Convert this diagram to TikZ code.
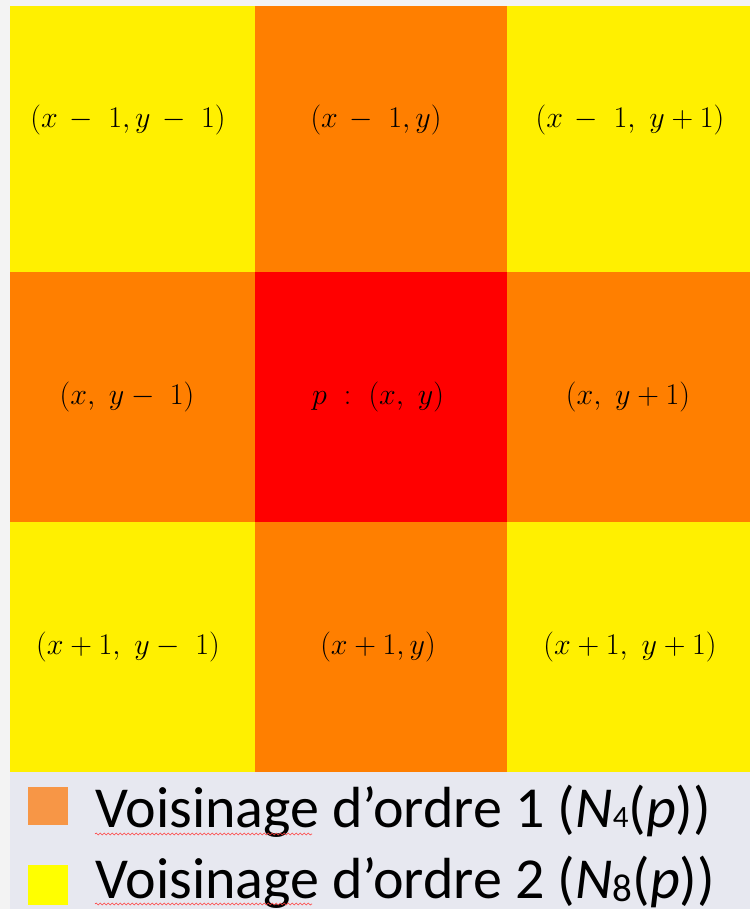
\documentclass[tikz,border=0pt]{standalone}
\usepackage{fontspec}
\newfontfamily\calib{Carlito}
\usetikzlibrary{decorations.pathmorphing}
\definecolor{cyel}{RGB}{255,240,0}
\definecolor{cora}{RGB}{255,127,0}
\definecolor{cred}{RGB}{255,0,0}
\definecolor{pagebg}{RGB}{243,243,243}
\definecolor{legbg}{RGB}{231,232,240}
\definecolor{legora}{RGB}{247,150,70}
\definecolor{legyel}{RGB}{255,255,0}
\newcommand{\smallsub}[3]{{\fontsize{#1}{#1}\selectfont\raisebox{#2}{#3}}}
\tikzset{
  celltext/.style={inner sep=0pt, scale=1.45, font=\fontsize{20}{24}\selectfont},
  legtext/.style={inner sep=0pt, anchor=base west, font=\calib\fontsize{58}{62}\selectfont},
  wavy/.style={draw=red!75, line width=0.6pt, decorate, decoration={snake, segment length=4pt, amplitude=1pt}}
}
\begin{document}
\begin{tikzpicture}[x=1pt,y=-1pt]
\useasboundingbox (0,0) rectangle (750,909);
\fill[pagebg] (0,0) rectangle (750,909);
\fill[legbg] (10,772) rectangle (750,909);
% cells
\fill[cyel] (10,6) rectangle (255,272);
\fill[cora] (255,6) rectangle (507,272);
\fill[cyel] (507,6) rectangle (750,272);
\fill[cora] (10,272) rectangle (255,522);
\fill[cred] (255,272) rectangle (507,522);
\fill[cora] (507,272) rectangle (750,522);
\fill[cyel] (10,522) rectangle (255,772);
\fill[cora] (255,522) rectangle (507,772);
\fill[cyel] (507,522) rectangle (750,772);
% cell labels
\node[celltext] (c11) at (128,120) {$(x\,-\ 1, y\,-\ 1)$};
\node[celltext] (c12) at (376,120) {$(x\,-\ 1, y)$};
\node[celltext] (c13) at (630,120) {$(x\,-\ 1,\ y+1)$};
\node[celltext] (c21) at (127,397) {$(x,\ y-\ 1)$};
\node[celltext] (c22) at (378,397) {$p\ :\ (x,\ y)$};
\node[celltext] (c23) at (628,397) {$(x,\ y+1)$};
\node[celltext] (c31) at (128,647) {$(x+1,\ y-\ 1)$};
\node[celltext] (c32) at (378,647) {$(x+1, y)$};
\node[celltext] (c33) at (630,647) {$(x+1,\ y+1)$};
% legend
\fill[legora] (28,787) rectangle (68,825);
\fill[legyel] (28,865) rectangle (68,905);
\node[legtext] (l1) at (95,827) {Voisinage d’ordre 1 (\textit{N}\smallsub{31}{0pt}{4}(\textit{p}))};
\node[legtext] (l2) at (95,898) {Voisinage d’ordre 2 (\textit{N}\smallsub{39}{-3pt}{8}(\textit{p}))};
\draw[wavy] (95,834) -- (312,834);
\draw[wavy] (95,904) -- (312,904);
\end{tikzpicture}
\end{document}
